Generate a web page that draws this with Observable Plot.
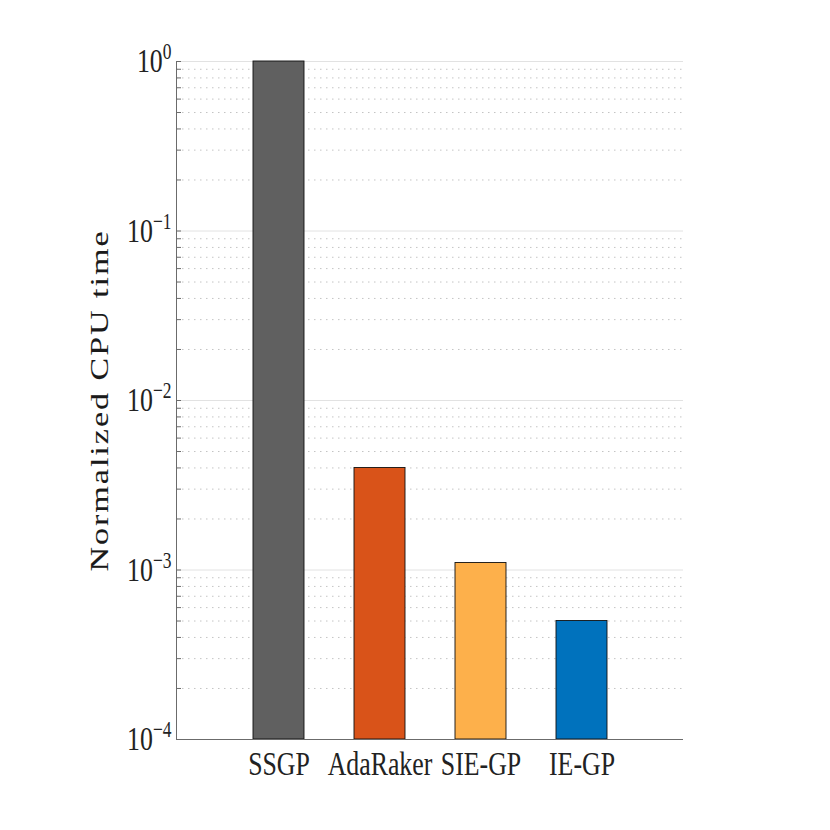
<!DOCTYPE html>
<html><head><meta charset="utf-8">
<script src="https://cdn.jsdelivr.net/npm/d3@7"></script>
<script src="https://cdn.jsdelivr.net/npm/@observablehq/plot@0.6"></script>
<style>body{margin:0;background:#fff}</style>
</head><body><div id="chart"></div>
<script>
const methods = ["SSGP", "AdaRaker", "SIE-GP", "IE-GP"];
const cpuTime = [1, 0.004, 0.0011, 0.0005];
const barColors = ["#606060", "#D95319", "#FDB04B", "#0072BD"];
const majorTicks = [1e-4, 1e-3, 1e-2, 1e-1, 1e0];
const tickExponents = ["−4", "−3", "−2", "−1", "0"];
const minorMultipliers = [2, 3, 4, 5, 6, 7, 8, 9];
const yLabel = "Normalized CPU time";

const minorTicks = [];
for (const m of majorTicks.slice(0, -1)) for (const k of minorMultipliers) minorTicks.push(k * m);
const allTicks = majorTicks.concat(minorTicks);
const data = methods.map((m, i) => ({method: m, value: cpuTime[i], color: barColors[i]}));
const font = "Liberation Serif, Times New Roman, serif";

const chart = Plot.plot({
  width: 830, height: 830,
  marginLeft: 176, marginRight: 147, marginTop: 61, marginBottom: 91,
  style: {fontFamily: font, color: "#222", background: "#fff"},
  x: {type: "band", domain: methods, paddingInner: 0.5, paddingOuter: 0.75, axis: null, label: null},
  y: {type: "log", domain: [1e-4, 1], axis: null, label: null},
  color: {type: "identity"},
  marks: [
    Plot.ruleY(minorTicks, {stroke: "#c4c4c4", strokeDasharray: "1.5,4.5", strokeWidth: 1}),
    Plot.ruleY(majorTicks, {stroke: "#e2e2e2", strokeWidth: 1}),
    Plot.barY(data, {x: "method", y1: () => 1e-4, y2: "value", fill: "color", stroke: "#111", strokeWidth: 0.9}),
    Plot.ruleY([1e-4], {stroke: "#6b6b6b", strokeWidth: 1}),
    Plot.frame({anchor: "left", stroke: "#6b6b6b", strokeWidth: 1}),
    Plot.axisY(allTicks, {anchor: "left", label: null, tickSize: 5, dx: 5, stroke: "#6b6b6b", tickFormat: () => ""}),
    Plot.axisY(majorTicks, {anchor: "left", label: null, tickSize: 0, tickPadding: 5, fontSize: 34,
      tickFormat: d => tickExponents[majorTicks.indexOf(d)]}),
    Plot.axisX({anchor: "bottom", label: null, tickSize: 0, tickPadding: 11, fontSize: 34}),
    Plot.text([yLabel], {frameAnchor: "left", textAnchor: "middle", rotate: -90, dx: -77, fontSize: 34, fill: "#1a1a1a", stroke: "#1a1a1a", strokeWidth: 0.12})
  ]
});

document.getElementById("chart").appendChild(chart);

function squeezeX(t, s) {
  const x = parseFloat(t.getAttribute("x")) || 0;
  const tr = t.getAttribute("transform") || "";
  t.setAttribute("transform", `${tr} translate(${x},0) scale(${s},1) translate(${-x},0)`);
}

// y tick labels: 10 with superscript exponent
chart.querySelectorAll('g[aria-label="y-axis tick label"] text').forEach(t => {
  const exp = t.textContent;
  if (!exp) return;
  t.textContent = "";
  const ns = "http://www.w3.org/2000/svg";
  const base = document.createElementNS(ns, "tspan");
  base.textContent = "10";
  const sup = document.createElementNS(ns, "tspan");
  sup.textContent = exp;
  sup.setAttribute("font-size", "23");
  sup.setAttribute("dy", "-13");
  t.appendChild(base);
  t.appendChild(sup);
  squeezeX(t, 0.76);
});

chart.querySelectorAll('g[aria-label="x-axis tick label"] text').forEach(t => squeezeX(t, 0.76));

chart.querySelectorAll('g[aria-label="text"] text').forEach(t => {
  if (t.textContent === yLabel) {
    t.setAttribute("letter-spacing", "2");
    const tr = t.getAttribute("transform") || "";
    t.setAttribute("transform", `${tr} scale(1,0.75)`);
  }
});
</script>
</body></html>
